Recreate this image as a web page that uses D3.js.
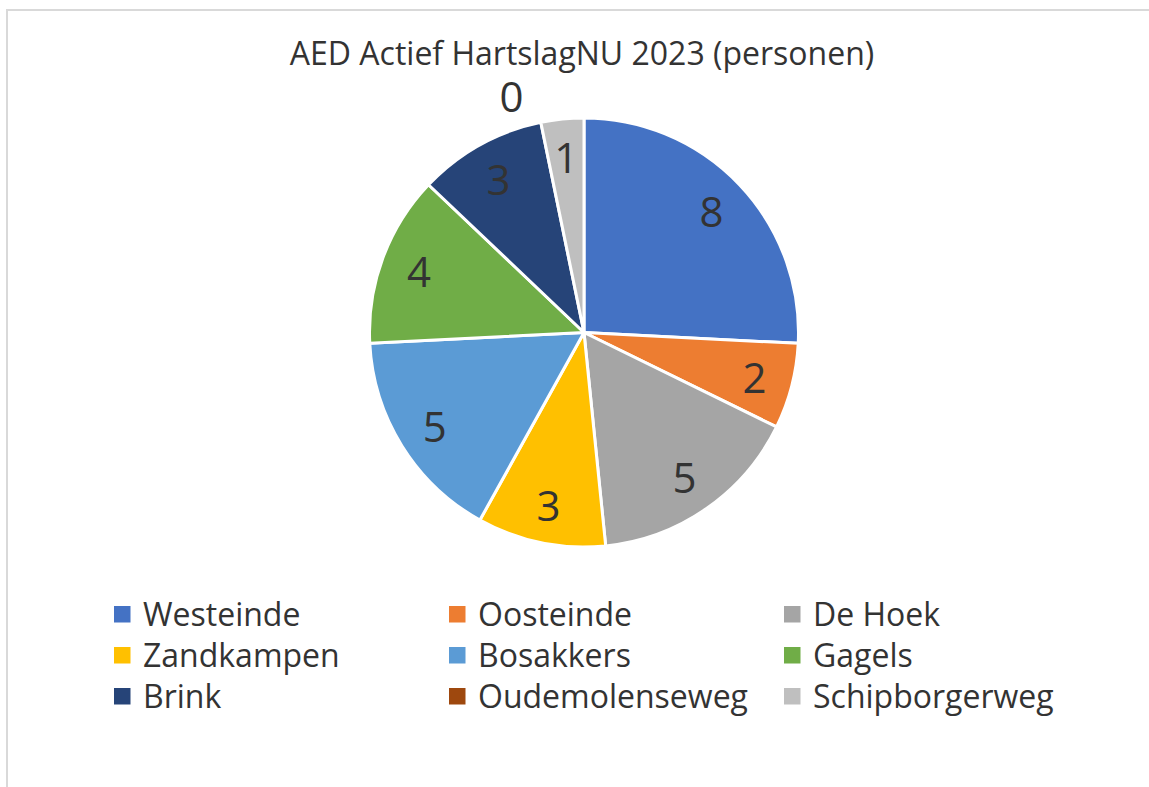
<!DOCTYPE html>
<html>
<head>
<meta charset="utf-8">
<script src="https://cdn.jsdelivr.net/npm/d3@7"></script>
<style>
  html, body { margin: 0; padding: 0; background: #fff; }
  svg { display: block; font-family: "Open Sans", "Liberation Sans", sans-serif; }
</style>
</head>
<body>
<svg id="chart" width="1149" height="787"></svg>
<script>
const title = "AED Actief HartslagNU 2023 (personen)";
const categories = ["Westeinde", "Oosteinde", "De Hoek", "Zandkampen", "Bosakkers", "Gagels", "Brink", "Oudemolenseweg", "Schipborgerweg"];
const values = [8, 2, 5, 3, 5, 4, 3, 0, 1];
const colors = ["#4472C4", "#ED7D31", "#A5A5A5", "#FFC000", "#5B9BD5", "#70AD47", "#264478", "#9E480E", "#BFBFBF"];

const W = 1149, H = 787;
const cx = 584, cy = 332.5, R = 214.5;
const textColor = "#333333";

const svg = d3.select("#chart");
svg.append("rect").attr("width", W).attr("height", H).attr("fill", "#fff");
svg.append("rect")
  .attr("x", 7).attr("y", 10).attr("width", W + 10).attr("height", H + 10)
  .attr("fill", "none").attr("stroke", "#d9d9d9").attr("stroke-width", 2);

svg.append("text")
  .attr("x", cx - 2).attr("y", 65)
  .attr("text-anchor", "middle")
  .attr("font-size", 32)
  .attr("fill", textColor)
  .text(title);

const data = categories.map((c, i) => ({ name: c, value: values[i], color: colors[i] }));
const pie = d3.pie().sort(null).value(d => d.value);
const arcs = pie(data);
const arc = d3.arc().innerRadius(0).outerRadius(R);
const labelArc = d3.arc().innerRadius(176).outerRadius(176);
const outerLabelArc = d3.arc().innerRadius(241).outerRadius(241);

const g = svg.append("g").attr("transform", `translate(${cx},${cy})`);
g.selectAll("path.slice")
  .data(arcs.filter(a => a.data.value > 0))
  .join("path")
  .attr("class", "slice")
  .attr("d", arc)
  .attr("fill", d => d.data.color)
  .attr("stroke", "#fff")
  .attr("stroke-width", 3)
  .attr("stroke-linejoin", "round");

g.selectAll("text.lbl")
  .data(arcs)
  .join("text")
  .attr("class", "lbl")
  .attr("transform", d => {
    const p = d.data.value > 0 ? labelArc.centroid(d) : outerLabelArc.centroid(d);
    const dx = d.data.value > 0 ? 0 : -24;
    return `translate(${p[0] + dx},${p[1]})`;
  })
  .attr("dy", 16)
  .attr("text-anchor", "middle")
  .attr("font-size", 42)
  .attr("fill", textColor)
  .text(d => d.data.value);

// Legend
const colX = [114, 449, 784];
const rowY = [626, 667, 708];
const lg = svg.append("g");
data.forEach((d, i) => {
  const x = colX[i % 3], y = rowY[Math.floor(i / 3)];
  lg.append("rect")
    .attr("x", x).attr("y", y - 20)
    .attr("width", 16.5).attr("height", 16.5)
    .attr("fill", d.color);
  lg.append("text")
    .attr("x", x + 29).attr("y", y)
    .attr("font-size", 32)
    .attr("fill", textColor)
    .text(d.name);
});
</script>
</body>
</html>
